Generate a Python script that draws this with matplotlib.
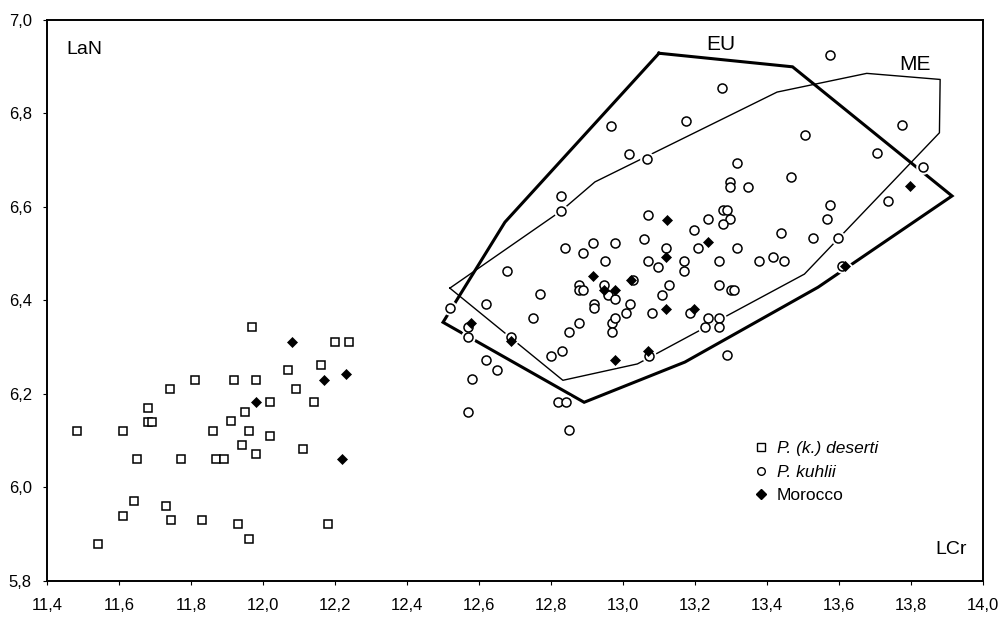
import matplotlib
matplotlib.use("Agg")
import matplotlib.pyplot as plt
from matplotlib.lines import Line2D
from matplotlib.ticker import FuncFormatter

plt.rcParams["font.family"] = ["Liberation Sans", "DejaVu Sans"]

# -------------------------
# data (LCr on x, LaN on y)
# -------------------------
deserti_x = [11.969, 12.199, 12.240, 12.069, 12.160, 11.811, 11.920, 11.981, 11.742, 12.091,
             12.020, 12.141, 11.680, 11.680, 11.692, 11.951, 11.910, 11.483, 11.611, 11.860,
             11.960, 12.020, 11.941, 11.981, 12.111, 11.651, 11.772, 11.869, 11.891, 11.642,
             11.731, 11.612, 11.743, 11.831, 11.931, 12.181, 11.961, 11.542]
deserti_y = [6.342, 6.311, 6.311, 6.251, 6.262, 6.230, 6.230, 6.230, 6.210, 6.211,
             6.182, 6.182, 6.170, 6.140, 6.140, 6.162, 6.142, 6.121, 6.121, 6.121,
             6.121, 6.111, 6.091, 6.071, 6.082, 6.061, 6.061, 6.061, 6.061, 5.970,
             5.960, 5.940, 5.930, 5.930, 5.921, 5.921, 5.890, 5.879]

kuhlii_x = [13.575, 13.276, 12.968, 13.176, 13.775, 13.506, 13.018, 13.068, 13.706, 13.318,
            13.834, 13.467, 13.736, 13.576, 13.566, 12.828, 12.828, 13.297, 13.297, 13.347,
            13.069, 13.277, 13.288, 13.236, 13.297, 13.277, 13.197, 13.438, 13.527, 13.596,
            13.058, 12.978, 12.918, 12.888, 12.838, 13.119, 13.207, 13.318, 13.418, 13.379,
            13.447, 13.608, 12.949, 13.069, 13.098, 13.169, 13.169, 13.268, 12.679, 13.029,
            12.879, 12.879, 12.889, 12.947, 12.959, 12.978, 13.129, 13.108, 13.268, 13.299,
            13.309, 12.769, 12.619, 12.519, 12.919, 12.919, 13.019, 12.749, 12.879, 12.849,
            12.969, 12.978, 12.969, 12.570, 12.570, 12.689, 12.800, 12.830, 12.620, 12.650,
            12.580, 12.820, 12.842, 12.570, 12.851, 13.186, 13.080, 13.008, 13.237, 13.268,
            13.228, 13.268, 13.071, 13.288]
kuhlii_y = [6.925, 6.853, 6.772, 6.783, 6.774, 6.753, 6.712, 6.702, 6.714, 6.693,
            6.685, 6.663, 6.613, 6.604, 6.573, 6.623, 6.591, 6.653, 6.643, 6.643,
            6.583, 6.593, 6.593, 6.573, 6.573, 6.563, 6.551, 6.543, 6.533, 6.533,
            6.532, 6.522, 6.522, 6.502, 6.512, 6.512, 6.512, 6.512, 6.493, 6.483,
            6.484, 6.473, 6.483, 6.483, 6.472, 6.483, 6.463, 6.483, 6.462, 6.443,
            6.432, 6.423, 6.423, 6.432, 6.411, 6.402, 6.432, 6.412, 6.432, 6.423,
            6.423, 6.413, 6.392, 6.383, 6.393, 6.384, 6.392, 6.362, 6.352, 6.332,
            6.352, 6.362, 6.332, 6.342, 6.321, 6.322, 6.282, 6.291, 6.272, 6.252,
            6.232, 6.182, 6.182, 6.162, 6.123, 6.372, 6.372, 6.372, 6.362, 6.362,
            6.343, 6.343, 6.282, 6.283]

morocco_x = [12.081, 12.169, 12.230, 11.981, 12.220,
             13.797, 13.121, 13.237, 13.119, 12.918, 13.021, 12.947, 12.979, 13.119, 13.198,
             12.579, 12.689, 12.979, 13.070, 13.618]
morocco_y = [6.311, 6.230, 6.242, 6.182, 6.061,
             6.644, 6.571, 6.524, 6.492, 6.452, 6.443, 6.423, 6.423, 6.382, 6.382,
             6.352, 6.312, 6.272, 6.292, 6.473]

# outlines of the two regional groups
eu_x = [13.100, 13.471, 13.914, 13.542, 13.172, 12.892, 12.500, 12.672]
eu_y = [6.928, 6.899, 6.623, 6.428, 6.268, 6.182, 6.353, 6.567]
me_x = [12.519, 12.828, 12.922, 13.428, 13.677, 13.881, 13.879, 13.504, 13.040, 12.833]
me_y = [6.426, 6.591, 6.653, 6.845, 6.885, 6.872, 6.758, 6.456, 6.264, 6.229]

x_ticks = [11.4, 11.6, 11.8, 12.0, 12.2, 12.4, 12.6, 12.8, 13.0, 13.2, 13.4, 13.6, 13.8, 14.0]
y_ticks = [5.8, 6.0, 6.2, 6.4, 6.6, 6.8, 7.0]

# -------------------------
# figure
# -------------------------
fig = plt.figure(figsize=(10.01, 6.17), dpi=100)
ax = fig.add_axes([0.047, 0.0583, 0.935, 0.910])

# group outlines
ax.plot(eu_x + eu_x[:1], eu_y + eu_y[:1], color="black", lw=2.2, zorder=2,
        solid_joinstyle="miter")
ax.plot(me_x + me_x[:1], me_y + me_y[:1], color="black", lw=1.0, zorder=2)

# white halos so the outlines break around the markers
ax.plot(kuhlii_x, kuhlii_y, "o", ms=9.5, color="white", mec="white", zorder=3)
ax.plot(morocco_x, morocco_y, "D", ms=7.5, color="white", mec="white", zorder=3)

ax.plot(deserti_x, deserti_y, "s", ms=6.3, mfc="white", mec="black", mew=1.1, zorder=4)
ax.plot(kuhlii_x, kuhlii_y, "o", ms=6.5, mfc="white", mec="black", mew=1.1, zorder=4)
ax.plot(morocco_x, morocco_y, "D", ms=5.4, mfc="black", mec="black", mew=0.5, zorder=5)

ax.text(13.271, 6.935, "EU", fontsize=15, ha="center", va="baseline")
ax.text(13.811, 6.893, "ME", fontsize=15, ha="center", va="baseline")
ax.text(0.0203, 0.9395, "LaN", fontsize=14, transform=ax.transAxes, va="baseline")
ax.text(0.983, 0.0475, "LCr", fontsize=14, transform=ax.transAxes, ha="right", va="baseline")

ax.set_xlim(11.4, 14.0)
ax.set_ylim(5.8, 7.0)
ax.set_xticks(x_ticks)
ax.set_yticks(y_ticks)
comma = FuncFormatter(lambda v, p: f"{v:.1f}".replace(".", ","))
ax.xaxis.set_major_formatter(comma)
ax.yaxis.set_major_formatter(comma)
ax.tick_params(axis="both", direction="out", length=3, width=0.8, labelsize=12)
ax.tick_params(axis="x", pad=9)
ax.tick_params(axis="y", pad=8)
for side in ["left", "bottom", "right", "top"]:
    ax.spines[side].set_linewidth(1.4)

handles = [
    Line2D([], [], ls="none", marker="s", ms=5.5, mfc="white", mec="black", mew=1.0),
    Line2D([], [], ls="none", marker="o", ms=5.5, mfc="white", mec="black", mew=1.0),
    Line2D([], [], ls="none", marker="D", ms=5.0, mfc="black", mec="black"),
]
leg = ax.legend(handles, ["P. (k.) deserti", "P. kuhlii", "Morocco"],
                loc="upper left", bbox_to_anchor=(0.754, 0.250), frameon=False,
                fontsize=12.5, handlelength=1.0, handletextpad=0.4,
                labelspacing=0.5, borderpad=0, borderaxespad=0)
leg.get_texts()[0].set_style("italic")
leg.get_texts()[1].set_style("italic")

fig.savefig("out.png", dpi=100, facecolor="white")
